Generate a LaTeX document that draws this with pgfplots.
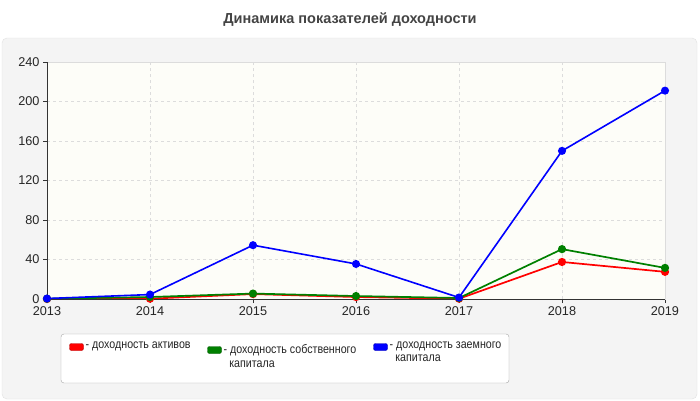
\documentclass[border=0pt]{standalone}
\usepackage{graphicx}
\usepackage{pgfplots}
\pgfplotsset{compat=1.18}
\usepackage{fontspec}
\setmainfont{Liberation Sans}
\definecolor{panel}{RGB}{244,244,244}
\definecolor{panelline}{RGB}{225,225,225}
\definecolor{plotbg}{RGB}{253,253,248}
\definecolor{gridc}{RGB}{220,220,220}
\definecolor{titlec}{RGB}{68,68,68}
\definecolor{sred}{RGB}{255,0,0}
\definecolor{sgreen}{RGB}{0,128,0}
\definecolor{sblue}{RGB}{0,0,255}
\newcommand{\legtext}[1]{\scalebox{0.86}[1]{\parbox[t]{170pt}{\raggedright #1}}}
\begin{document}
\begin{tikzpicture}[x=1pt,y=1pt]
\path[use as bounding box] (0,0) rectangle (700,400);
\fill[white] (0,0) rectangle (700,400);
\filldraw[fill=panel,draw=panelline,rounded corners=5pt] (2,1) rectangle (697,362);
\node[font=\bfseries\fontsize{14.5}{16}\selectfont,text=titlec] at (350,380) {Динамика показателей доходности};
\begin{axis}[
  at={(47pt,101pt)}, anchor=south west,
  scale only axis, width=618pt, height=237pt,
  xmin=2013, xmax=2019, ymin=0, ymax=240,
  xtick={2013,...,2019}, ytick={0,40,...,240},
  /pgf/number format/assume math mode=true,
  xticklabel style={/pgf/number format/1000 sep={}},
  ticklabel style={font=\fontsize{12.7}{15}\selectfont, text=black!85},
  tick align=outside, major tick length=4pt,
  tick style={black!80},
  xtick pos=bottom, ytick pos=left,
  grid=major, major grid style={gridc, dashed},
  axis line style={gridc},
  axis background/.style={fill=plotbg},
  clip=false,
]
\addplot[sred, line width=1.7pt, mark=*, mark size=3.2pt] coordinates {
  (2013,0) (2014,0.3) (2015,5) (2016,2) (2017,0.3) (2018,37.5) (2019,27.5)};
\addplot[sgreen, line width=1.7pt, mark=*, mark size=3.2pt] coordinates {
  (2013,0.3) (2014,2) (2015,5.5) (2016,3) (2017,1) (2018,50.5) (2019,31.5)};
\addplot[sblue, line width=1.6pt, mark=*, mark size=3.2pt] coordinates {
  (2013,0.5) (2014,4.5) (2015,54.5) (2016,35.5) (2017,1.5) (2018,150) (2019,211)};
\draw[black!80, line width=0.6pt] (rel axis cs:0,1) -- (rel axis cs:0,0) -- (rel axis cs:1,0);
\end{axis}
% legend
\filldraw[fill=white!97!panel, draw=black!35, rounded corners=3pt] (61,66) rectangle (509,17);
\begin{scope}[every node/.style={font=\fontsize{12.4}{13.5}\selectfont, text=black!85, inner sep=0pt, anchor=north west, align=left}]
\filldraw[fill=sred, draw=sred!70!black, rounded corners=2pt] (69.5,56.5) rectangle (83.5,49.5);
\node at (85.5,58.5) {\legtext{- доходность активов}};
\filldraw[fill=sgreen, draw=sgreen!70!black, rounded corners=2pt] (207.5,53.5) rectangle (221.5,46.5);
\node at (223.5,55.5) {\legtext{- доходность собственного\\\hspace*{6.5pt}капитала}};
\filldraw[fill=sblue, draw=sblue!70!black, rounded corners=2pt] (373.5,56.5) rectangle (387.5,49.5);
\node at (389.5,58.5) {\legtext{- доходность заемного\\\hspace*{6.5pt}капитала}};
\end{scope}
\end{tikzpicture}
\end{document}
